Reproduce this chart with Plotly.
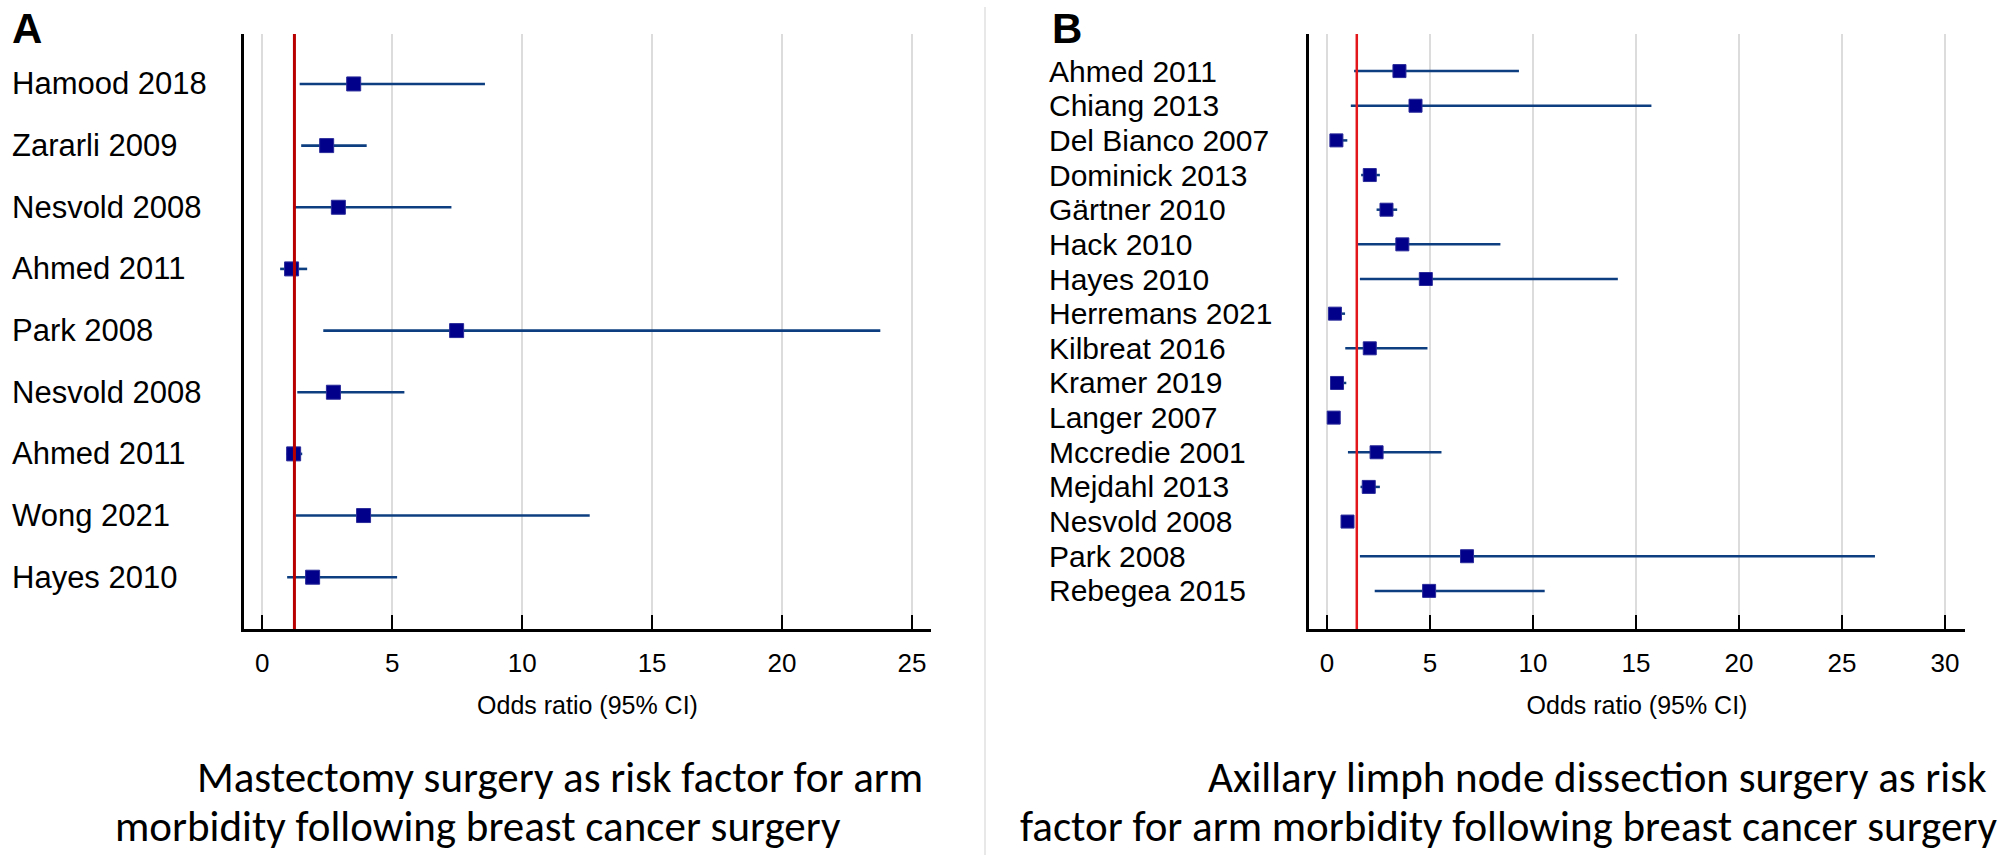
import plotly.graph_objects as go

# ---------------- Panel A data ----------------
a_studies = ["Hamood 2018", "Zararli 2009", "Nesvold 2008", "Ahmed 2011", "Park 2008",
             "Nesvold 2008", "Ahmed 2011", "Wong 2021", "Hayes 2010"]
a_or = [3.52, 2.48, 2.93, 1.13, 7.48, 2.74, 1.21, 3.90, 1.94]
a_lo = [1.44, 1.50, 1.20, 0.69, 2.35, 1.35, 0.94, 1.29, 0.96]
a_hi = [8.57, 4.02, 7.28, 1.73, 23.78, 5.47, 1.54, 12.60, 5.19]
a_pooled = 1.24
a_ticks = [0, 5, 10, 15, 20, 25]

# ---------------- Panel B data ----------------
b_studies = ["Ahmed 2011", "Chiang 2013", "Del Bianco 2007", "Dominick 2013", "Gärtner 2010",
             "Hack 2010", "Hayes 2010", "Herremans 2021", "Kilbreat 2016", "Kramer 2019",
             "Langer 2007", "Mccredie 2001", "Mejdahl 2013", "Nesvold 2008", "Park 2008",
             "Rebegea 2015"]
b_or = [3.52, 4.30, 0.46, 2.08, 2.89, 3.66, 4.80, 0.39, 2.08, 0.49, 0.33, 2.41, 2.03, 1.00, 6.80, 4.96]
b_lo = [1.32, 1.16, 0.25, 1.66, 2.41, 1.51, 1.60, 0.20, 0.89, 0.30, 0.22, 1.02, 1.63, 0.80, 1.60, 2.32]
b_hi = [9.32, 15.75, 0.99, 2.57, 3.41, 8.42, 14.12, 0.88, 4.88, 0.94, 0.45, 5.56, 2.57, 1.25, 26.60, 10.57]
b_pooled = 1.45
b_ticks = [0, 5, 10, 15, 20, 25, 30]

axis_title = "Odds ratio (95% CI)"
title_a = ["Mastectomy surgery as risk factor for arm",
           "morbidity following breast cancer surgery"]
title_b = ["Axillary limph node dissection surgery as risk",
           "factor for arm morbidity following breast cancer surgery"]

W, H = 2000, 861
LABEL_FONT = "Liberation Sans, Arial, sans-serif"
NARROW_FONT = "Liberation Sans Narrow, Arial Narrow, Liberation Sans, sans-serif"
TITLE_FONT = "Carlito, Lato, Open Sans, sans-serif"
MARKER = "#00008b"
CI = "#0d3f80"

fig = go.Figure()


def add_panel(studies, orv, lo, hi, xa, ya, msize, lw):
    idx = list(range(len(studies)))
    fig.add_trace(go.Scatter(
        x=orv, y=idx, mode="markers", xaxis=xa, yaxis=ya,
        marker=dict(symbol="square", size=msize, color=MARKER,
                    line=dict(width=1, color="#2a2a9a")),
        error_x=dict(type="data", symmetric=False,
                     array=[h - o for h, o in zip(hi, orv)],
                     arrayminus=[o - l for o, l in zip(orv, lo)],
                     color=CI, thickness=lw, width=0),
        showlegend=False, hoverinfo="skip"))


add_panel(a_studies, a_or, a_lo, a_hi, "x", "y", 14, 2.6)
add_panel(b_studies, b_or, b_lo, b_hi, "x2", "y2", 13, 2.5)

ydom = [1 - 629 / H, 1 - 34 / H]
common_x = dict(showline=True, linecolor="black", linewidth=2.5,
                ticks="inside", ticklen=14, tickwidth=2, tickcolor="black",
                showgrid=True, gridcolor="#dcdcdc", gridwidth=1.5,
                zeroline=False, ticklabelstandoff=9,
                tickfont=dict(family=NARROW_FONT, size=26, color="black"),
                title=dict(text=axis_title, font=dict(family=NARROW_FONT, size=25, color="black"),
                           standoff=20),
                mirror=False)
common_y = dict(showline=True, linecolor="black", linewidth=2.5, showgrid=False,
                zeroline=False, showticklabels=False, ticks="")

fig.update_layout(
    width=W, height=H, margin=dict(l=0, r=0, t=0, b=0),
    paper_bgcolor="white", plot_bgcolor="white",
    xaxis=dict(domain=[244 / W, 931 / W], range=[-0.7, 25.73], tickvals=a_ticks, anchor="y", **common_x),
    yaxis=dict(domain=ydom, range=[8.84, -0.81], anchor="x", **common_y),
    xaxis2=dict(domain=[1309 / W, 1965 / W], range=[-0.87, 30.97], tickvals=b_ticks, anchor="y2", **common_x),
    yaxis2=dict(domain=ydom, range=[16.10, -1.07], anchor="x2", **common_y),
)

# pooled reference lines
fig.add_shape(type="line", xref="x", yref="y domain", x0=a_pooled, x1=a_pooled, y0=0, y1=1,
              line=dict(color="#b80000", width=3), layer="above")
fig.add_shape(type="line", xref="x2", yref="y2 domain", x0=b_pooled, x1=b_pooled, y0=0, y1=1,
              line=dict(color="#e3161c", width=2.5), layer="above")

# panel divider
fig.add_shape(type="line", xref="paper", yref="paper", x0=985 / W, x1=985 / W,
              y0=1 - 855 / H, y1=1 - 7 / H, line=dict(color="#e8e8e8", width=2))

# study labels
for i, s in enumerate(a_studies):
    fig.add_annotation(x=10 / W, xref="paper", y=i, yref="y", text=s, showarrow=False,
                       xanchor="left", yanchor="middle",
                       font=dict(family=LABEL_FONT, size=31, color="black"))
for i, s in enumerate(b_studies):
    fig.add_annotation(x=1047 / W, xref="paper", y=i, yref="y2", text=s, showarrow=False,
                       xanchor="left", yanchor="middle",
                       font=dict(family=LABEL_FONT, size=30, color="black"))

# panel letters
fig.add_annotation(x=10 / W, y=1 - 3 / H, xref="paper", yref="paper", text="<b>A</b>",
                   showarrow=False, xanchor="left", yanchor="top",
                   font=dict(family=LABEL_FONT, size=42, color="black"))
fig.add_annotation(x=1050 / W, y=1 - 3 / H, xref="paper", yref="paper", text="<b>B</b>",
                   showarrow=False, xanchor="left", yanchor="top",
                   font=dict(family=LABEL_FONT, size=42, color="black"))

# bottom captions
caps = [(title_a[0], 195, 777), (title_a[1], 113, 826),
        (title_b[0], 1206, 777), (title_b[1], 1018, 826)]
for txt, xpx, ypx in caps:
    fig.add_annotation(x=xpx / W, y=1 - ypx / H, xref="paper", yref="paper", text=txt,
                       showarrow=False, xanchor="left", yanchor="middle",
                       font=dict(family=TITLE_FONT, size=43, color="black"))

fig.write_html("out.html", config={"displayModeBar": False},
               post_script="document.body.style.margin='0';")
